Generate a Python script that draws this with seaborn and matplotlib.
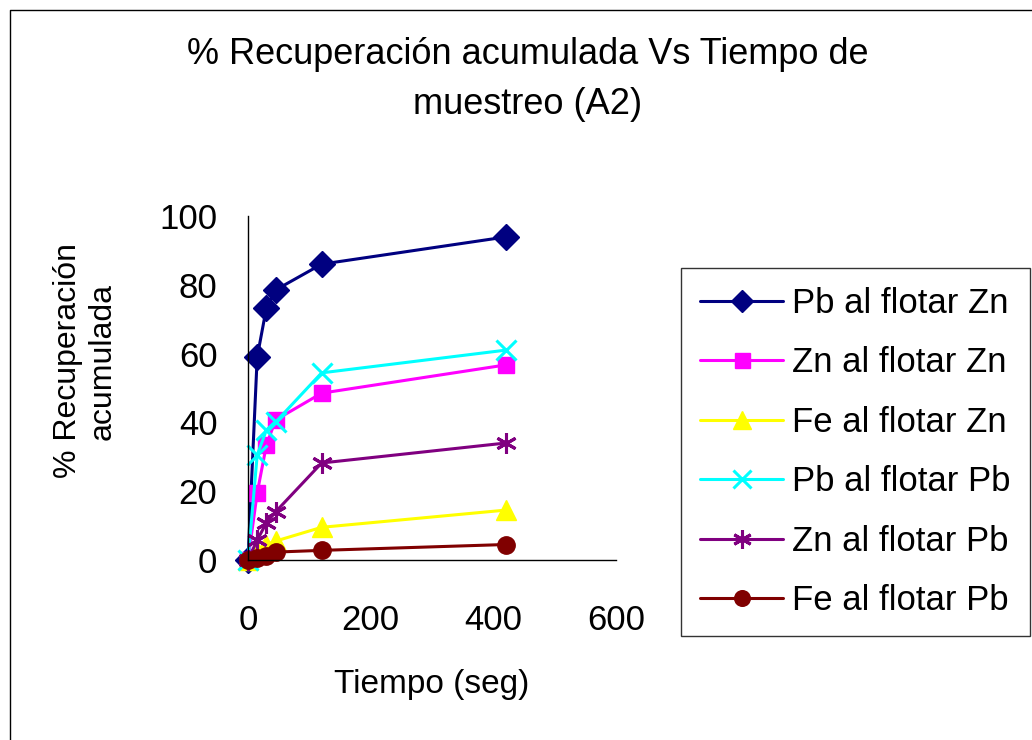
import matplotlib
matplotlib.use("Agg")
import matplotlib.pyplot as plt
import seaborn as sns
import pandas as pd
from matplotlib.lines import Line2D

sns.set_theme(style="white")
plt.rcParams['font.family'] = ['Liberation Sans', 'DejaVu Sans']
plt.rcParams['text.color'] = 'black'

tiempo = [0, 15, 30, 45, 120, 420]
pb_flotar_zn = [0, 59.0, 73.3, 78.5, 86.0, 93.9]
zn_flotar_zn = [0, 19.5, 33.4, 40.7, 48.5, 56.7]
fe_flotar_zn = [0, 2.5, 4.5, 5.5, 9.5, 14.5]
pb_flotar_pb = [0, 30.5, 37.8, 40.1, 54.4, 61.0]
zn_flotar_pb = [0, 5.8, 10.8, 14.0, 28.2, 34.0]
fe_flotar_pb = [0, 0.6, 1.3, 2.3, 2.8, 4.5]

series_names = ["Pb al flotar Zn", "Zn al flotar Zn", "Fe al flotar Zn",
                "Pb al flotar Pb", "Zn al flotar Pb", "Fe al flotar Pb"]
series_values = [pb_flotar_zn, zn_flotar_zn, fe_flotar_zn,
                 pb_flotar_pb, zn_flotar_pb, fe_flotar_pb]
colors = ["#000080", "#FF00FF", "#FFFF00", "#00FFFF", "#800080", "#800000"]
markers = ["D", "s", "^", "x", (6, 2, 0), "o"]
msizes = [13, 12, 15, 15, 15, 12.5]

xticks = [0, 200, 400, 600]
yticks = [0, 20, 40, 60, 80, 100]

W, H = 1032, 740
fig = plt.figure(figsize=(W / 100, H / 100), dpi=100)
ax = fig.add_axes([248 / W, 1 - 560 / H, (616 - 248) / W, (560 - 216) / H])

handles = []
for name, vals, c, m, ms in zip(series_names, series_values, colors, markers, msizes):
    df = pd.DataFrame({"t": tiempo, "v": vals})
    mew = 2.2 if m in ("x", (6, 2, 0)) else 1
    sns.lineplot(data=df, x="t", y="v", ax=ax, color=c, linewidth=2.2,
                 marker=m, markersize=ms, markeredgecolor=c, markerfacecolor=c,
                 markeredgewidth=mew, clip_on=False, legend=False)
    handles.append(Line2D([0], [0], color=c, linewidth=2.2, marker=m,
                          markersize=ms * 0.9, markerfacecolor=c, markeredgecolor=c,
                          markeredgewidth=mew))

ax.set_xlim(0, 600)
ax.set_ylim(0, 100)
ax.set_xticks(xticks)
ax.set_yticks(yticks)
ax.tick_params(axis="both", direction="out", length=8, width=1, color="black",
               labelsize=25, labelcolor="black")
ax.tick_params(axis="y", pad=14)
ax.tick_params(axis="x", pad=23.5)
for s in ["top", "right"]:
    ax.spines[s].set_visible(False)
for s in ["left", "bottom"]:
    ax.spines[s].set_color("black")
    ax.spines[s].set_linewidth(1)
ax.set_xlabel("")
ax.set_ylabel("")

fig.text(432 / W, 1 - 685 / H, "Tiempo (seg)", ha="center", va="center", fontsize=24)
fig.text(85 / W, 1 - 361 / H, "% Recuperación\nacumulada", ha="center", va="center",
         rotation=90, fontsize=23, linespacing=1.2)

fig.text(528 / W, 1 - 55 / H, "% Recuperación acumulada Vs Tiempo de", ha="center",
         va="center", fontsize=26)
fig.text(528 / W, 1 - 104 / H, "muestreo (A2)", ha="center", va="center", fontsize=26)

leg = fig.legend(handles, series_names, loc="upper left",
                 bbox_to_anchor=(681 / W, 1 - 268 / H), bbox_transform=fig.transFigure,
                 borderaxespad=0, fontsize=25, frameon=True, fancybox=False,
                 edgecolor="black", handlelength=2.4, handletextpad=0.25,
                 labelspacing=0.76, borderpad=0.55, numpoints=1)
leg.get_frame().set_linewidth(1)

fig.add_artist(Line2D([10 / W, 10 / W, 1.01], [-0.01, 1 - 10 / H, 1 - 10 / H],
                      transform=fig.transFigure, color="black", linewidth=1))

fig.savefig("out.png", dpi=100, facecolor="white")
